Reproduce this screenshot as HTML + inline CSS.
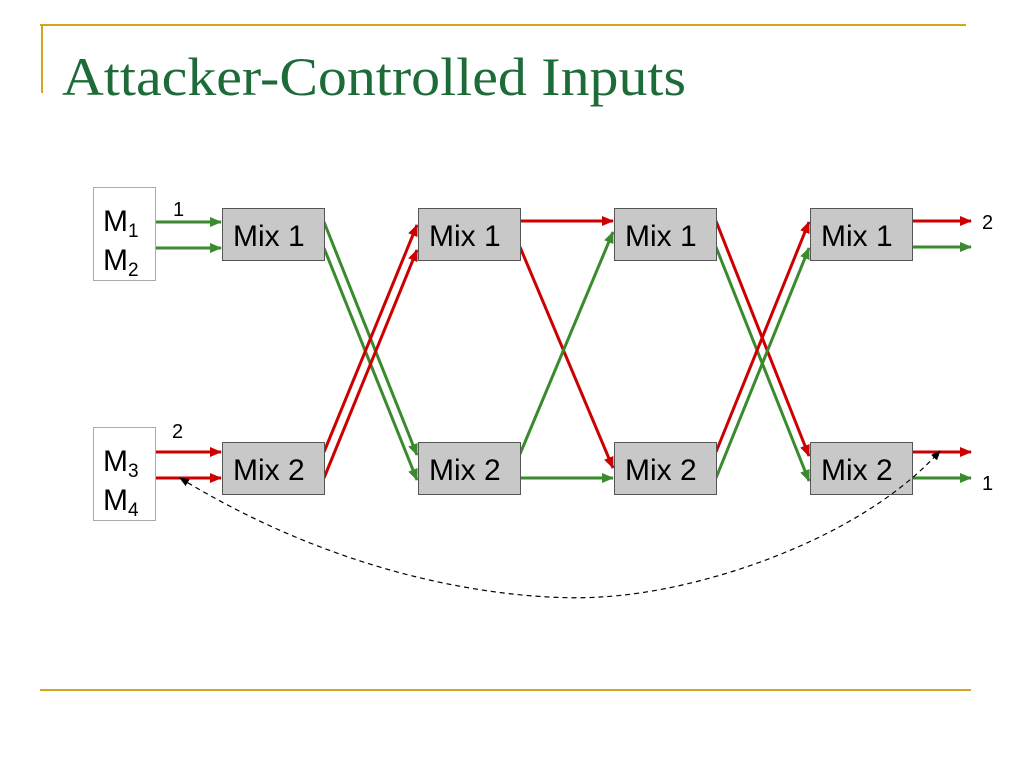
<!DOCTYPE html>
<html><head><meta charset="utf-8"><style>
html,body{margin:0;padding:0;background:#fff;width:1024px;height:768px;overflow:hidden}
</style></head><body>
<svg width="1024" height="768" viewBox="0 0 1024 768" xmlns="http://www.w3.org/2000/svg" font-family="Liberation Sans, sans-serif">
<defs>
<marker id="ar" markerWidth="12" markerHeight="10" refX="11" refY="5" orient="auto" markerUnits="userSpaceOnUse"><path d="M0,0 L12,5 L0,10 z" fill="#cc0000"/></marker>
<marker id="ag" markerWidth="12" markerHeight="10" refX="11" refY="5" orient="auto" markerUnits="userSpaceOnUse"><path d="M0,0 L12,5 L0,10 z" fill="#3a8a2e"/></marker>
<marker id="ak" markerWidth="10" markerHeight="8" refX="9" refY="4" orient="auto-start-reverse" markerUnits="userSpaceOnUse"><path d="M0,0 L10,4 L0,8 z" fill="#000"/></marker>
</defs>
<line x1="40" y1="25" x2="966" y2="25" stroke="#d4a520" stroke-width="2"/>
<line x1="42" y1="24" x2="42" y2="93" stroke="#d4a520" stroke-width="2"/>
<line x1="40" y1="690" x2="971" y2="690" stroke="#d4a520" stroke-width="2"/>
<text x="62" y="95" font-family="Liberation Serif, serif" font-size="54" fill="#1e6b3a" textLength="624" lengthAdjust="spacingAndGlyphs">Attacker-Controlled Inputs</text>

<rect x="93.5" y="187.5" width="62" height="93" fill="#fff" stroke="#aaa"/>
<rect x="93.5" y="427.5" width="62" height="93" fill="#fff" stroke="#aaa"/>
<g font-size="30" fill="#000">
<text x="103" y="231">M<tspan font-size="19" dy="6">1</tspan></text>
<text x="103" y="270">M<tspan font-size="19" dy="6">2</tspan></text>
<text x="103" y="471">M<tspan font-size="19" dy="6">3</tspan></text>
<text x="103" y="510">M<tspan font-size="19" dy="6">4</tspan></text>
</g>
<g font-size="20" fill="#000">
<text x="173" y="216">1</text>
<text x="172" y="438">2</text>
<text x="982" y="229">2</text>
<text x="982" y="490">1</text>
</g>

<g stroke-width="3" fill="none">
<line x1="156" y1="222" x2="221" y2="222" stroke="#3a8a2e" marker-end="url(#ag)"/>
<line x1="156" y1="248" x2="221" y2="248" stroke="#3a8a2e" marker-end="url(#ag)"/>
<line x1="156" y1="452" x2="221" y2="452" stroke="#cc0000" marker-end="url(#ar)"/>
<line x1="156" y1="478" x2="221" y2="478" stroke="#cc0000" marker-end="url(#ar)"/>
<line x1="324" y1="222" x2="417" y2="455" stroke="#3a8a2e" marker-end="url(#ag)"/>
<line x1="324" y1="248" x2="417" y2="480" stroke="#3a8a2e" marker-end="url(#ag)"/>
<line x1="324" y1="452" x2="417" y2="225" stroke="#cc0000" marker-end="url(#ar)"/>
<line x1="324" y1="478" x2="417" y2="250" stroke="#cc0000" marker-end="url(#ar)"/>
<line x1="520" y1="221" x2="613" y2="221" stroke="#cc0000" marker-end="url(#ar)"/>
<line x1="520" y1="247" x2="613" y2="468" stroke="#cc0000" marker-end="url(#ar)"/>
<line x1="520" y1="454" x2="613" y2="232" stroke="#3a8a2e" marker-end="url(#ag)"/>
<line x1="520" y1="478" x2="613" y2="478" stroke="#3a8a2e" marker-end="url(#ag)"/>
<line x1="716" y1="221" x2="809" y2="456" stroke="#cc0000" marker-end="url(#ar)"/>
<line x1="716" y1="247" x2="809" y2="481" stroke="#3a8a2e" marker-end="url(#ag)"/>
<line x1="716" y1="452" x2="809" y2="222" stroke="#cc0000" marker-end="url(#ar)"/>
<line x1="716" y1="478" x2="809" y2="248" stroke="#3a8a2e" marker-end="url(#ag)"/>
<line x1="912" y1="221" x2="971" y2="221" stroke="#cc0000" marker-end="url(#ar)"/>
<line x1="912" y1="247" x2="971" y2="247" stroke="#3a8a2e" marker-end="url(#ag)"/>
<line x1="912" y1="452" x2="971" y2="452" stroke="#cc0000" marker-end="url(#ar)"/>
<line x1="912" y1="478" x2="971" y2="478" stroke="#3a8a2e" marker-end="url(#ag)"/>
</g>

<g fill="#c8c8c8" stroke="#555" stroke-width="1">
<rect x="222.5" y="208.5" width="102" height="52"/>
<rect x="418.5" y="208.5" width="102" height="52"/>
<rect x="614.5" y="208.5" width="102" height="52"/>
<rect x="810.5" y="208.5" width="102" height="52"/>
<rect x="222.5" y="442.5" width="102" height="52"/>
<rect x="418.5" y="442.5" width="102" height="52"/>
<rect x="614.5" y="442.5" width="102" height="52"/>
<rect x="810.5" y="442.5" width="102" height="52"/>
</g>
<g font-size="30" fill="#000">
<text x="233" y="246">Mix 1</text><text x="429" y="246">Mix 1</text><text x="625" y="246">Mix 1</text><text x="821" y="246">Mix 1</text>
<text x="233" y="480">Mix 2</text><text x="429" y="480">Mix 2</text><text x="625" y="480">Mix 2</text><text x="821" y="480">Mix 2</text>
</g>
<path d="M180,478 C380,600 560,600 600,597 C700,592 860,540 940,451" fill="none" stroke="#000" stroke-width="1.2" stroke-dasharray="5,4" marker-start="url(#ak)" marker-end="url(#ak)"/>
</svg>
</body></html>
